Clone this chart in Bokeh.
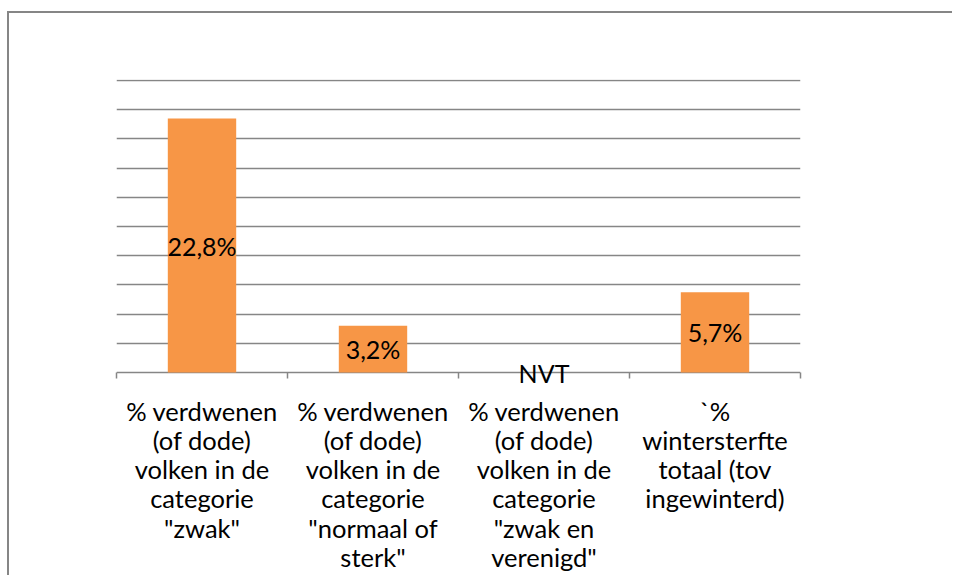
from bokeh.plotting import figure
from bokeh.models import ColumnDataSource, Range1d, FixedTicker
from bokeh.core.properties import value
from bokeh.embed import file_html
from bokeh.resources import INLINE

# ---- data ----
categories = [
    '% verdwenen\n(of dode)\nvolken in de\ncategorie\n"zwak"',
    '% verdwenen\n(of dode)\nvolken in de\ncategorie\n"normaal of\nsterk"',
    '% verdwenen\n(of dode)\nvolken in de\ncategorie\n"zwak en\nverenigd"',
    '`%\nwintersterfte\ntotaal (tov\ningewinterd)',
]
bar_heights = [17.4, 3.2, 0.0, 5.5]
bar_labels = ["22,8%", "3,2%", "NVT", "5,7%"]
grid_values = [0, 2, 4, 6, 8, 10, 12, 14, 16, 18, 20]

ORANGE = "#F79646"
GRAY = "#868686"
FONT = "Lato"

centers = [i + 0.5 for i in range(len(categories))]
boundaries = [float(i) for i in range(len(categories) + 1)]

source = ColumnDataSource(dict(
    x=centers,
    top=bar_heights,
    label=bar_labels,
    label_y=[h / 2 for h in bar_heights],
))

p = figure(
    frame_width=684, frame_height=304,
    min_border_left=107, min_border_right=152,
    min_border_top=66, min_border_bottom=190,
    x_range=Range1d(0, len(categories)),
    y_range=Range1d(-0.75, 20.07),
    output_backend="svg", toolbar_location=None,
)
p.styles = {"margin-top": "11px", "margin-left": "7px",
            "border-top": "2px solid " + GRAY,
            "border-left": "2px solid " + GRAY}

p.outline_line_color = None
p.background_fill_color = "white"
p.border_fill_color = "white"

p.vbar(x="x", top="top", bottom=0, width=0.4, source=source,
       fill_color=ORANGE, line_color=None)

p.text(x="x", y="label_y", text="label", source=source,
       text_align="center", text_baseline="middle",
       text_font=value(FONT), text_font_size="25px", text_color="black")

# grid (the line at 0 is the category axis base line)
p.xgrid.visible = False
p.ygrid.ticker = FixedTicker(ticks=grid_values)
p.ygrid.grid_line_color = GRAY
p.ygrid.grid_line_width = 1.4

# axes
p.yaxis.visible = False
xa = p.xaxis[0]
xa.ticker = FixedTicker(ticks=centers, minor_ticks=boundaries)
xa.major_label_overrides = {c: t for c, t in zip(centers, categories)}
xa.major_tick_line_color = None
xa.major_tick_in = 0
xa.major_tick_out = 0
xa.minor_tick_in = 11
xa.minor_tick_out = -5
xa.minor_tick_line_color = GRAY
xa.minor_tick_line_width = 1.5
xa.axis_line_color = None
xa.major_label_text_font = FONT
xa.major_label_text_font_size = "25.5px"
xa.major_label_text_line_height = 0.977
xa.major_label_text_color = "black"
xa.major_label_standoff = 12

open("out.html", "w").write(file_html(p, INLINE))
